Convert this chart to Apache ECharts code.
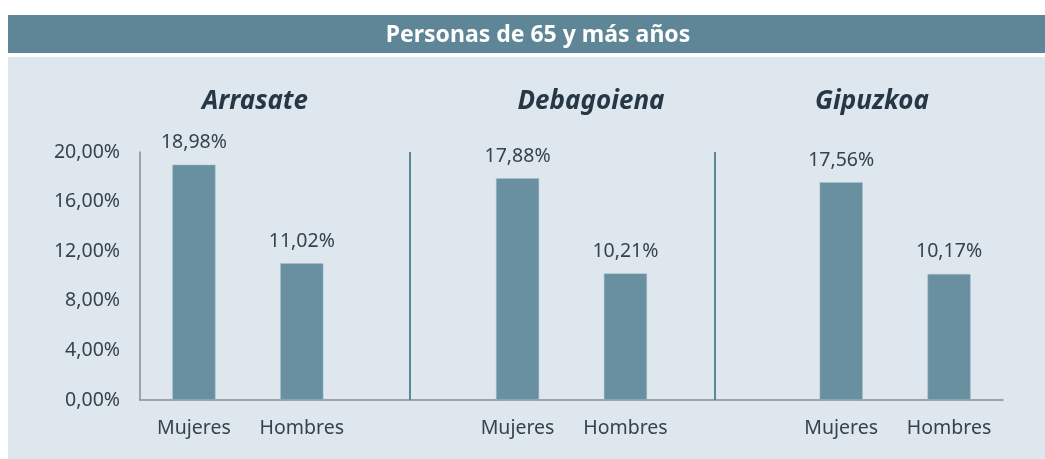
<!DOCTYPE html>
<html>
<head>
<meta charset="utf-8">
<script src="https://cdn.jsdelivr.net/npm/echarts@6/dist/echarts.min.js"></script>
<style>
  html, body { margin: 0; padding: 0; background: #fff; }
  #chart { width: 1045px; height: 459px; }
</style>
</head>
<body>
<div id="chart"></div>
<script>
// datos
const groups = ['Arrasate', 'Debagoiena', 'Gipuzkoa']
const sexes = ['Mujeres', 'Hombres']
const mujeres = [18.98, 17.88, 17.56]
const hombres = [11.02, 10.21, 10.17]
const yMax = 20
const yStep = 4

const font = 'Noto Sans'
const txt = '#34434d'

// categorias: M, H, hueco, M, H, hueco, M, H
const cats = []
const vals = []
groups.forEach((g, i) => {
  if (i > 0) { cats.push(''); vals.push(null) }
  cats.push(sexes[0]); vals.push(mujeres[i])
  cats.push(sexes[1]); vals.push(hombres[i])
})

const fmt = v => v.toFixed(2).replace('.', ',') + '%'

const groupTitle = (text, x) => ({
  text, left: x, top: 84, textAlign: 'center',
  textStyle: { color: '#263845', fontSize: 26, fontWeight: 'bold', fontStyle: 'italic', fontFamily: font }
})

const chart = echarts.init(document.getElementById('chart'))

chart.setOption({
  animation: false,
  textStyle: { fontFamily: font },
  graphic: [
    { type: 'rect', z: -10, shape: { x: 8, y: 15, width: 1037, height: 38 }, style: { fill: '#5f8696' } },
    { type: 'rect', z: -10, shape: { x: 8, y: 57, width: 1037, height: 402 }, style: { fill: '#dfe7ee' } }
  ],
  title: [
    { text: 'Personas de 65 y más años', left: 533, top: 19, textAlign: 'center',
      textStyle: { color: '#fff', fontSize: 23, fontWeight: 'bold', fontFamily: font } },
    groupTitle(groups[0], 250),
    groupTitle(groups[1], 586),
    groupTitle(groups[2], 867)
  ],
  grid: { left: 140, right: 42, top: 152, bottom: 59 },
  xAxis: [
    {
      type: 'category',
      data: cats,
      axisTick: { show: false },
      axisLine: { lineStyle: { color: '#8c8c8c', width: 1.5 } },
      axisLabel: { interval: 0, color: txt, fontSize: 19.5, margin: 18, fontFamily: font }
    },
    {
      // eje oculto para los separadores
      type: 'value', min: 0, max: cats.length, show: false
    }
  ],
  yAxis: {
    type: 'value',
    min: 0,
    max: yMax,
    interval: yStep,
    axisLine: { show: true, lineStyle: { color: '#8c8c8c', width: 1.5 } },
    axisTick: { show: false },
    splitLine: { show: false },
    axisLabel: { color: txt, fontSize: 19.5, margin: 20, fontFamily: font, formatter: fmt }
  },
  series: [
    {
      type: 'bar',
      data: vals,
      barWidth: '40%',
      itemStyle: { color: '#6890a0', borderColor: '#a9c2cc', borderWidth: 0.5 },
      label: {
        show: true,
        position: 'top',
        distance: 12,
        color: txt,
        fontSize: 19.5,
        fontFamily: font,
        formatter: p => fmt(p.value)
      }
    },
    {
      type: 'scatter',
      xAxisIndex: 1,
      data: [],
      markLine: {
        silent: true,
        symbol: 'none',
        label: { show: false },
        lineStyle: { color: '#5f8696', width: 2, type: 'solid' },
        data: [{ xAxis: 2.5 }, { xAxis: 5.33 }]
      }
    }
  ]
})
</script>
</body>
</html>
